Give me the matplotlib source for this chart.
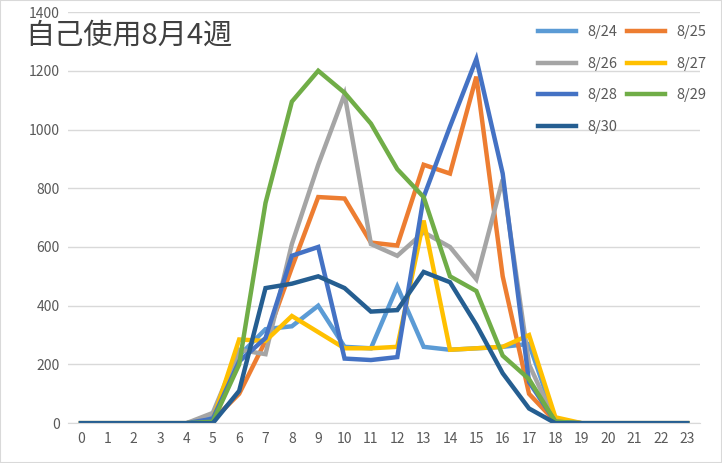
import matplotlib
matplotlib.use("Agg")
import matplotlib.pyplot as plt

hours = list(range(24))
labels = ["8/24", "8/25", "8/26", "8/27", "8/28", "8/29", "8/30"]
colors = ["#5B9BD5", "#ED7D31", "#A5A5A5", "#FFC000", "#4472C4", "#70AD47", "#255E91"]
d824 = [0,0,0,0,0,20,230,320,330,400,260,255,465,260,250,255,260,270,10,0,0,0,0,0]
d825 = [0,0,0,0,0,10,100,280,530,770,765,615,605,880,850,1180,500,100,5,0,0,0,0,0]
d826 = [0,0,0,0,0,35,250,235,610,880,1120,610,570,650,600,490,830,200,5,0,0,0,0,0]
d827 = [0,0,0,0,0,10,285,280,365,310,255,255,260,690,250,255,260,300,20,0,0,0,0,0]
d828 = [0,0,0,0,0,15,210,290,570,600,220,215,225,770,1010,1240,850,140,5,0,0,0,0,0]
d829 = [0,0,0,0,0,5,200,750,1095,1200,1125,1020,865,770,500,450,230,150,5,0,0,0,0,0]
d830 = [0,0,0,0,0,0,110,460,475,500,460,380,385,515,480,335,170,50,0,0,0,0,0,0]
series = [d824, d825, d826, d827, d828, d829, d830]

plt.rcParams['font.family'] = ['Noto Sans CJK JP', 'DejaVu Sans']
fig = plt.figure(figsize=(7.22, 4.63), dpi=100)
ax = fig.add_axes([0.094, 0.086, 0.876, 0.888])
handles = []
for s, l, c in zip(series, labels, colors):
    h, = ax.plot(hours, s, color=c, lw=3.2, label=l, solid_joinstyle='miter')
    handles.append(h)
ax.set_xlim(-0.5, 23.5)
ax.set_ylim(0, 1400)
ax.set_xticks(hours)
ax.set_yticks(range(0, 1401, 200))
ax.grid(axis='y', color='#D9D9D9', lw=1)
ax.set_axisbelow(True)
for sp in ['top', 'right', 'left']:
    ax.spines[sp].set_visible(False)
ax.spines['bottom'].set_color('#D9D9D9')
ax.tick_params(length=0, labelcolor='#595959', labelsize=10, pad=6)
fig.text(0.035, 0.955, "自己使用8月4週", fontsize=21,
         color='#404040', va='top', ha='left')
# row-major ordering for 2-column legend
order = [0, 2, 4, 6, 1, 3, 5]
leg = ax.legend([handles[i] for i in order], [labels[i] for i in order],
                loc='upper right', ncol=2, frameon=False, fontsize=10.5,
                handlelength=2.6, columnspacing=0.6, labelspacing=1.2,
                bbox_to_anchor=(1.03, 1.0))
for t in leg.get_texts():
    t.set_color('#595959')
fig.patches.append(plt.Rectangle((0, 0), 1, 1, transform=fig.transFigure,
                                 fill=False, edgecolor='#D9D9D9', lw=1.5))
fig.savefig("out.png", dpi=100)
